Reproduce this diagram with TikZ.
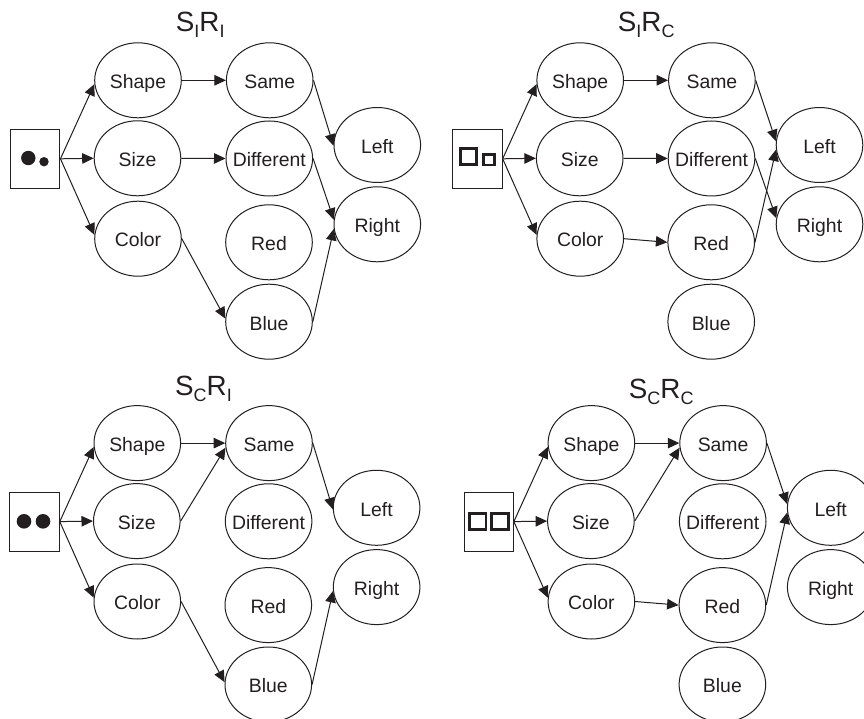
\documentclass[tikz,border=0pt]{standalone}
\usepackage{fontspec}
\setmainfont{Liberation Sans}
\usetikzlibrary{shapes.geometric,arrows.meta}
\definecolor{ink}{HTML}{231F20}
\tikzset{
  choice/.style={ellipse,draw=ink,line width=1pt,minimum width=86.6pt,minimum height=75pt,inner sep=0pt,
    text=ink,font=\fontsize{19.4}{20}\selectfont,text height=16.6pt,text depth=0pt},
  stimbox/.style={rectangle,draw=ink,line width=1pt,minimum width=49.3pt,minimum height=59pt,inner sep=0pt},
  link/.style={draw=ink,line width=1pt,-{Triangle[length=11.5pt,width=10.5pt]}},
  paneltitle/.style={anchor=base west,inner sep=0pt,text=ink,font=\fontsize{27.8}{29}\selectfont},
  hollow/.style={draw=ink,line width=2.8pt,fill=none}
}
\newcommand{\subsc}[1]{\raisebox{-6pt}{\fontsize{18}{19}\selectfont #1}}
\newcommand{\slim}[1]{\makebox[0pt]{#1}}
% #1 prefix
\newcommand{\panelnodes}[1]{%
  \node[stimbox] (#1box) at (35.3,158.8) {};
  \node[choice] (#1shape) at (138,80.3) {\slim{Shape}};
  \node[choice] (#1size) at (137.5,158.3) {\slim{Size}};
  \node[choice] (#1color) at (138,238.7) {\slim{Color}};
  \node[choice] (#1same) at (269.7,80.3) {\slim{Same}};
  \node[choice] (#1diff) at (269.3,158.5) {\slim{Different}};
  \node[choice] (#1red) at (269,242.3) {\slim{Red}};
  \node[choice] (#1blue) at (269,321.7) {\slim{Blue}};
  \node[choice] (#1left) at (377.3,145) {\slim{Left}};
  \node[choice] (#1right) at (377.3,224.3) {\slim{Right}};
  \draw[link] (#1box.east) -- (#1shape.185);
  \draw[link] (#1box.east) -- (#1size.west);
  \draw[link] (#1box.east) -- (#1color.175);
}
\begin{document}
\begin{tikzpicture}[x=1pt,y=-1pt]
\useasboundingbox (0,0) rectangle (864,719);
\clip (0,0) rectangle (864,719);
\fill[white] (0,0) rectangle (864,719);
% Panel 1: SI RI
\begin{scope}
  \panelnodes{a}
  \fill[ink] (28.3,158) circle (7.2);
  \fill[ink] (44,161.7) circle (4.7);
  \draw[link] (ashape.east) -- (asame.west);
  \draw[link] (asize.east) -- (adiff.west);
  \draw[link] (asame.east) -- (aleft.181);
  \draw[link] (adiff.east) -- (aright.174);
  \draw[link] (acolor.east) -- (ablue.176);
  \draw[link] (ablue.east) -- (aright.186);
\end{scope}
\node[paneltitle] (ta) at (175.7,31.7) {S\subsc{I}R\subsc{I}};
% Panel 2: SI RC
\begin{scope}[shift={(442.2,0)}]
  \panelnodes{b}
  \draw[hollow] (18.6,148.8) rectangle (34.4,164.6);
  \draw[hollow] (41,154.4) rectangle (52,165);
  \draw[link] (bshape.east) -- (bsame.west);
  \draw[link] (bsize.east) -- (bdiff.west);
  \draw[link] (bcolor.east) -- (bred.west);
  \draw[link] (bsame.east) -- (bleft.175);
  \draw[link] (bred.east) -- (bleft.186);
  \draw[link] (bdiff.east) -- (bright.172);
\end{scope}
\node[paneltitle] (tb) at (617.7,31.7) {S\subsc{I}R\subsc{C}};
% Panel 3: SC RI
\begin{scope}[shift={(-0.7,362.8)}]
  \panelnodes{c}
  \fill[ink] (24.7,158.5) circle (7.3);
  \fill[ink] (43.7,158.5) circle (7.3);
  \draw[link] (cshape.east) -- (csame.west);
  \draw[link] (csize.east) -- (csame.186);
  \draw[link] (csame.east) -- (cleft.182);
  \draw[link] (ccolor.east) -- (cblue.177);
  \draw[link] (cblue.east) -- (cright.185);
\end{scope}
\node[paneltitle] (tc) at (175,395) {S\subsc{C}R\subsc{I}};
% Panel 4: SC RC
\begin{scope}[shift={(453.4,362.8)}]
  \panelnodes{d}
  \draw[hollow] (16.4,150.6) rectangle (32.5,166.7);
  \draw[hollow] (38,150.6) rectangle (54.8,166.7);
  \draw[link] (dshape.east) -- (dsame.west);
  \draw[link] (dsize.east) -- (dsame.186);
  \draw[link] (dcolor.east) -- (dred.west);
  \draw[link] (dsame.east) -- (dleft.175);
  \draw[link] (dred.east) -- (dleft.186);
\end{scope}
\node[paneltitle] (td) at (628.7,398.3) {S\subsc{C}R\subsc{C}};
\end{tikzpicture}
\end{document}
